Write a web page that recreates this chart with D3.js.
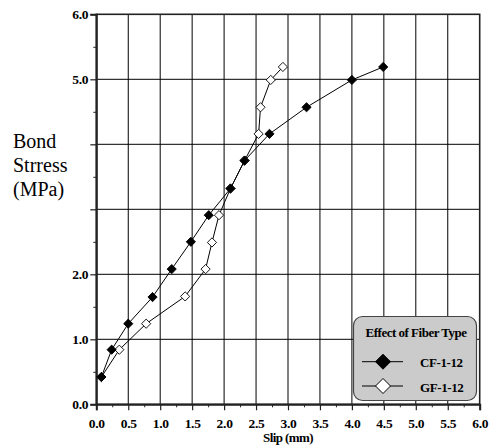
<!DOCTYPE html>
<html><head><meta charset="utf-8">
<script src="https://cdn.jsdelivr.net/npm/d3@7"></script>
<style>body{margin:0;background:#fff}svg{display:block}text{font-family:"Liberation Serif","Times New Roman",serif}</style>
</head><body>
<svg id="c" width="491" height="448"></svg>
<script>
const slipCF = [0.08,0.24,0.50,0.88,1.18,1.48,1.76,2.10,2.32,2.71,3.29,4.00,4.49];
const stressCF = [0.42,0.84,1.24,1.65,2.08,2.50,2.91,3.32,3.75,4.16,4.57,4.99,5.19];
const slipGF = [0.08,0.36,0.78,1.39,1.71,1.81,1.92,2.10,2.32,2.54,2.57,2.73,2.92];
const stressGF = [0.42,0.84,1.24,1.66,2.08,2.49,2.91,3.32,3.75,4.16,4.57,4.99,5.19];
const xTicks = [0,0.5,1,1.5,2,2.5,3,3.5,4,4.5,5,5.5,6];
const yTicks = [0,1,2,3,4,5,6];
const yTickLabels = ["0.0","1.0","2.0","","","5.0","6.0"];
const seriesNames = ["CF-1-12","GF-1-12"];
const legendTitle = "Effect of Fiber Type";

const svg = d3.select("#c");
const x = d3.scaleLinear().domain([0,6]).range([96.3,479.7]);
const y = d3.scaleLinear().domain([0,6]).range([404.3,14.3]);

const diamondPath = r => `M0,${-r}L${r},0L0,${r}L${-r},0Z`;

// grid
const g = svg.append("g");
g.selectAll(".vg").data(xTicks.filter(d=>d>0&&d<6)).join("line")
  .attr("x1",d=>x(d)).attr("x2",d=>x(d)).attr("y1",y(6)).attr("y2",y(0))
  .attr("stroke","#000").attr("stroke-width",1);
g.selectAll(".hg").data(yTicks.filter(d=>d>0&&d<6)).join("line")
  .attr("y1",d=>y(d)).attr("y2",d=>y(d)).attr("x1",x(0)).attr("x2",x(6))
  .attr("stroke","#000").attr("stroke-width",1);

// frame
svg.append("rect").attr("x",x(0)).attr("y",y(6)).attr("width",x(6)-x(0)).attr("height",y(0)-y(6))
  .attr("fill","none").attr("stroke","#222").attr("stroke-width",1.6);

// x axis
const xAxis = d3.axisBottom(x).tickValues(xTicks).tickSize(6).tickFormat(d3.format(".1f"));
const xa = svg.append("g").attr("transform",`translate(0,${y(0)})`).call(xAxis);
xa.attr("font-family",null);
xa.select(".domain").attr("stroke","#222").attr("stroke-width",2);
xa.selectAll(".tick line").attr("stroke","#222").attr("stroke-width",1.2);
xa.selectAll(".tick text").attr("font-size",13.5).attr("font-weight","bold").attr("letter-spacing","-0.3")
  .attr("fill","#000").attr("dy","0.71em").attr("y",14);
const xMinor = d3.axisBottom(x).tickValues(d3.range(0.25,6,0.5)).tickSize(3).tickFormat("");
const xm = svg.append("g").attr("transform",`translate(0,${y(0)})`).call(xMinor);
xm.select(".domain").remove();
xm.selectAll(".tick line").attr("stroke","#222");

// y axis
const yAxis = d3.axisLeft(y).tickValues(yTicks).tickSize(6).tickFormat((d,i)=>yTickLabels[i]);
const ya = svg.append("g").attr("transform",`translate(${x(0)},0)`).call(yAxis);
ya.attr("font-family",null);
ya.select(".domain").attr("stroke","#222").attr("stroke-width",2);
ya.selectAll(".tick line").attr("stroke","#222").attr("stroke-width",1.2);
ya.selectAll(".tick text").attr("font-size",13.5).attr("font-weight","bold").attr("letter-spacing","-0.3")
  .attr("fill","#000").attr("x",-8);
const yMinor = d3.axisLeft(y).tickValues(d3.range(0.5,6,1)).tickSize(3).tickFormat("");
const ym = svg.append("g").attr("transform",`translate(${x(0)},0)`).call(yMinor);
ym.select(".domain").remove();
ym.selectAll(".tick line").attr("stroke","#222");

// axis titles
svg.append("text").attr("x",x(3)).attr("y",442).attr("text-anchor","middle")
  .attr("font-size",13).attr("font-weight","bold").attr("letter-spacing","-0.6").text("Slip (mm)");
const yl = svg.append("text").attr("x",13).attr("y",147.5).attr("font-size",20);
["Bond","Strress","(MPa)"].forEach((t,i)=>yl.append("tspan").attr("x",13).attr("dy",i?24:0).text(t));

// series
function drawSeries(xs, ys, filled){
  const pts = xs.map((v,i)=>[v,ys[i]]);
  svg.append("path").datum(pts)
    .attr("d",d3.line().x(d=>x(d[0])).y(d=>y(d[1])))
    .attr("fill","none").attr("stroke","#000").attr("stroke-width",1);
  svg.selectAll(null).data(pts).join("path")
    .attr("transform",d=>`translate(${x(d[0])},${y(d[1])})`)
    .attr("d",diamondPath(4.6))
    .attr("fill",filled?"#000":"#fff").attr("stroke","#000").attr("stroke-width",0.9);
}
drawSeries(slipGF, stressGF, false);
drawSeries(slipCF, stressCF, true);

// legend
const lg = svg.append("g");
lg.append("rect").attr("x",353.5).attr("y",316.5).attr("width",123).attr("height",84).attr("rx",9)
  .attr("fill","#cbcbcb").attr("stroke","#444").attr("stroke-width",1.2);
lg.append("text").attr("x",416).attr("y",337).attr("text-anchor","middle").attr("font-size",13)
  .attr("font-weight","bold").attr("letter-spacing","-0.5").text(legendTitle);
seriesNames.forEach((n,i)=>{
  const cy = [361.7,386][i];
  lg.append("line").attr("x1",362).attr("x2",403).attr("y1",cy).attr("y2",cy).attr("stroke","#000");
  lg.append("path").attr("transform",`translate(383,${cy})`)
    .attr("d",diamondPath(7.5))
    .attr("fill",i===0?"#000":"#fff").attr("stroke","#000").attr("stroke-width",1);
  lg.append("text").attr("x",420).attr("y",cy+5.5).attr("font-size",13).attr("font-weight","bold")
    .attr("letter-spacing","-0.4").text(n);
});
</script>
</body></html>
